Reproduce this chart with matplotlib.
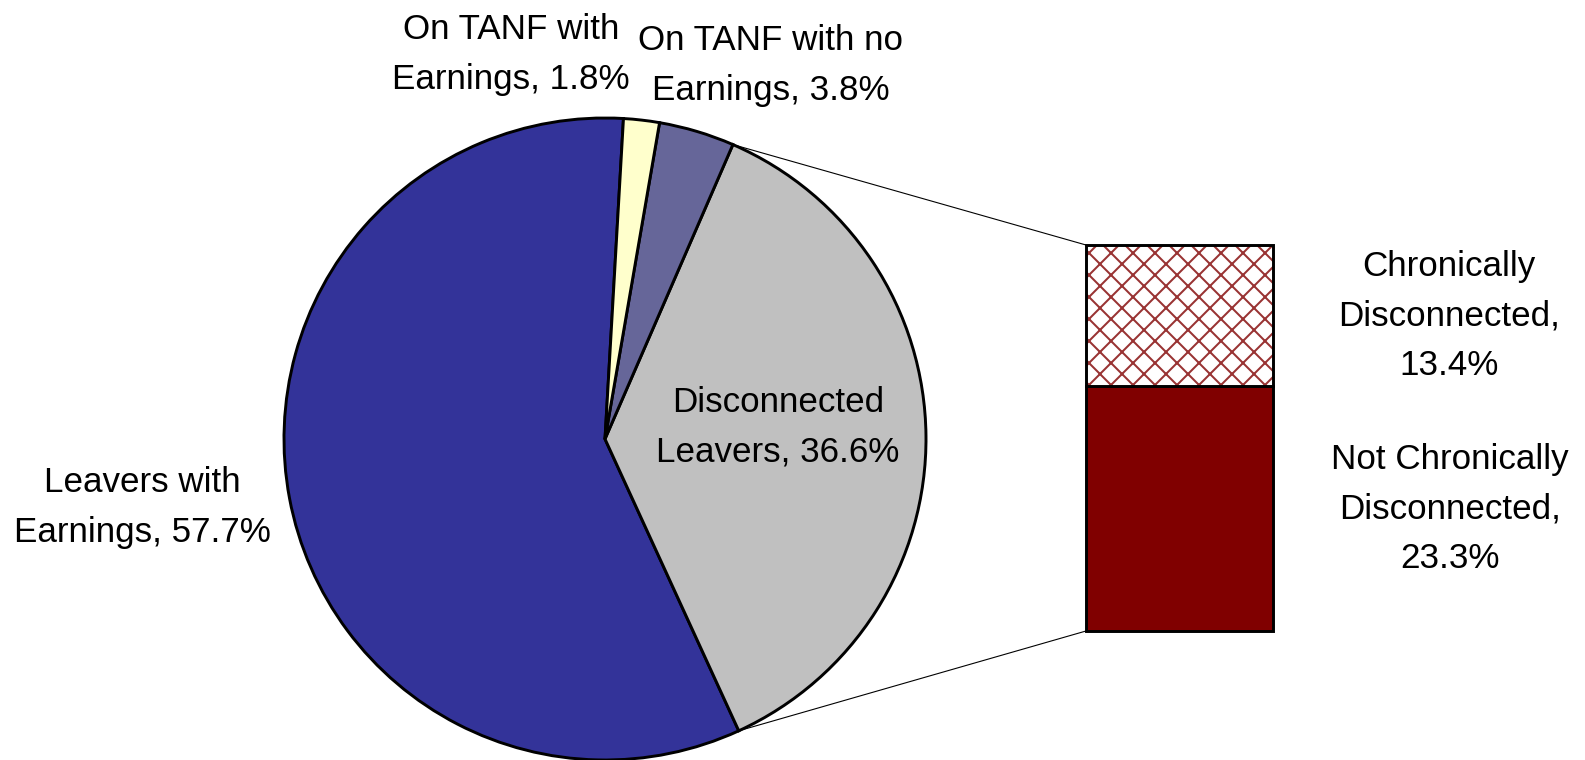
import matplotlib
matplotlib.use("Agg")
import matplotlib.pyplot as plt
from matplotlib.patches import ConnectionPatch
import numpy as np

# pie slices (percent of all leavers / TANF cases)
pie_labels = ["Leavers with\nEarnings, 57.7%", "Disconnected\nLeavers, 36.6%",
              "On TANF with no\nEarnings, 3.8%", "On TANF with\nEarnings, 1.8%"]
pie_values = [57.7, 36.6, 3.8, 1.8]
pie_colors = ["#333399", "#C0C0C0", "#666699", "#FFFFCC"]

# breakdown of the disconnected leavers
bar_labels = ["Not Chronically\nDisconnected,\n23.3%", "Chronically\nDisconnected,\n13.4%"]
bar_values = [23.3, 13.4]

W, H, DPI = 1585, 760, 132
plt.rcParams["font.family"] = ["Liberation Sans", "DejaVu Sans"]
plt.rcParams["hatch.linewidth"] = 1.1
fs = 35 * 72 / DPI

fig = plt.figure(figsize=(W / DPI, H / DPI), dpi=DPI)
ax = fig.add_axes([0, 0, 1, 1])

cx, cy, r = 605, H - 439, 321
wedges, _ = ax.pie(pie_values, colors=pie_colors, startangle=86.7, counterclock=True,
                   center=(cx, cy), radius=r,
                   wedgeprops=dict(edgecolor="black", linewidth=1.6))
ax.set_xlim(0, W)
ax.set_ylim(0, H)
ax.set_aspect("auto")
ax.axis("off")

txt = dict(fontsize=fs, ha="center", va="baseline", linespacing=1.64, color="black")
ax.text(142, H - 542, pie_labels[0], **txt)
ax.text(778, H - 462, pie_labels[1], **txt)
ax.text(771, H - 100, pie_labels[2], **txt)
ax.text(511, H - 89, pie_labels[3], **txt)

# stacked bar for the disconnected slice
bx0, bx1, by0, by1 = 1086, 1273, 245, 631
bax = fig.add_axes([bx0 / W, (H - by1) / H, (bx1 - bx0) / W, (by1 - by0) / H])
total = sum(bar_values)
bax.bar(0, bar_values[0], width=1, color="#800000", edgecolor="black",
        linewidth=1.6, clip_on=False)
bax.bar(0, bar_values[1], bottom=bar_values[0], width=1, color="white",
        edgecolor="#993333", linewidth=0, hatch="xx", clip_on=False)
bax.bar(0, bar_values[1], bottom=bar_values[0], width=1, color="none",
        edgecolor="black", linewidth=1.6, clip_on=False)
bax.set_xlim(-0.5, 0.5)
bax.set_ylim(0, total)
bax.axis("off")

ax.text(1450, H - 568, bar_labels[0], **txt)
ax.text(1449, H - 375, bar_labels[1], **txt)

# connector lines from the gray wedge to the bar
gray = wedges[1]
for ang, yb in [(gray.theta2, 1), (gray.theta1, 0)]:
    a = np.deg2rad(ang)
    p = (cx + r * np.cos(a), cy + r * np.sin(a))
    con = ConnectionPatch(xyA=p, coordsA=ax.transData, xyB=(-0.5, yb * total),
                          coordsB=bax.transData, color="black", linewidth=0.6)
    fig.add_artist(con)

fig.savefig("out.png", dpi=DPI)
